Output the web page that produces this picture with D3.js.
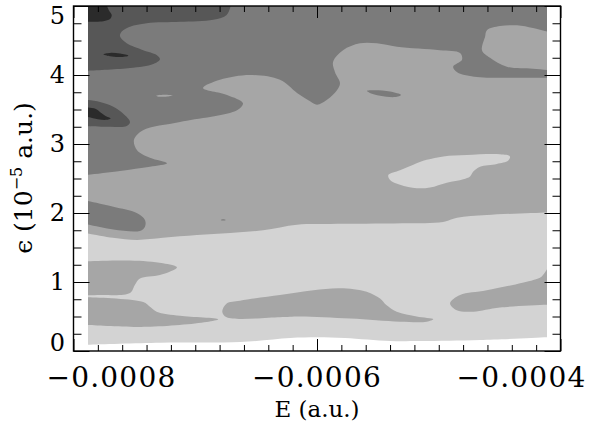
<!DOCTYPE html>
<html><head><meta charset="utf-8">
<script src="https://cdn.jsdelivr.net/npm/d3@7"></script>
<style>
body{margin:0;background:#fff}
text{font-family:"DejaVu Serif",serif;fill:#000}
.tick line{stroke:#000;stroke-width:1}
</style>
</head><body>
<svg id="chart" width="612" height="424"></svg>
<script>
// Units: E in 1e-6 a.u., eps in 1e-5 a.u.
const xDomain = [-800, -400];
const yDomain = [0, 5];
const dataE = [-788, -411];          // sampled energy range
const xMajor = [-800, -600, -400];
const xMajorLabels = ["\u22120.0008", "\u22120.0006", "\u22120.0004"];
const yMajor = [0, 1, 2, 3, 4, 5];
const yMajorLabels = ["0", "1", "2", "3", "4", "5"];
const levelColors = ["#ffffff", "#d3d3d3", "#a6a6a6", "#7b7b7b", "#575757", "#2b2b2b"];

// contour boundaries (E, eps); "Close" arrays close each region outside the sampled box
const lightBase = [[-790,0.09],[-729,0.12],[-663,0.13],[-622,0.19],[-600,0.20],[-577,0.19],[-540,0.145],[-515,0.145],[-466,0.16],[-409,0.20]];
const lightBaseClose = [[-395,0.20],[-395,5.3],[-805,5.3],[-805,0.09]];
const medTop = [[-790,1.71],[-767.6,1.64],[-747.8,1.61],[-726.5,1.64],[-698.6,1.68],[-671.4,1.71],[-644.3,1.75],[-616.4,1.83],[-589.3,1.84],[-530,1.85],[-496.5,1.87],[-484.9,1.93],[-460.4,1.97],[-409,2.01]];
const medTopClose = [[-395,2.01],[-395,5.3],[-805,5.3],[-805,1.71]];
const medLeft1 = [[-790,1.30],[-753.6,1.31],[-726.5,1.27],[-715,1.21],[-729,1.10],[-745.4,1.05],[-749.5,0.96],[-753.6,0.84],[-778,0.81],[-790,0.81]];
const medLeft1Close = [[-805,0.81],[-805,1.30]];
const medLeft2 = [[-790,0.78],[-742.7,0.71],[-737.2,0.64],[-731.7,0.57],[-712.5,0.51],[-681.1,0.46],[-690.6,0.42],[-739.9,0.35],[-790,0.38]];
const medLeft2Close = [[-805,0.38],[-805,0.78]];
const medMid = [[-677.8,0.57],[-674.2,0.69],[-663.2,0.73],[-630.4,0.81],[-603,0.88],[-581.1,0.91],[-559.2,0.86],[-548.2,0.76],[-543.3,0.67],[-534.5,0.57],[-518.1,0.50],[-504.5,0.46],[-509.9,0.425],[-531.8,0.425],[-572.7,0.47],[-614,0.50],[-630.4,0.49],[-674.2,0.49]];
const medRight = [[-409,1.25],[-415.4,1.08],[-422.3,1.03],[-460.6,0.88],[-482.5,0.81],[-490.7,0.69],[-485.2,0.59],[-471.6,0.57],[-449.7,0.63],[-409,0.67]];
const medRightClose = [[-395,0.67],[-395,1.25]];
const lightHole = [[-541.4,2.55],[-531.8,2.62],[-520.9,2.70],[-509.9,2.77],[-496.2,2.82],[-477,2.84],[-449.7,2.85],[-441.5,2.82],[-442.9,2.76],[-452.4,2.71],[-466.1,2.67],[-471.6,2.60],[-474.3,2.53],[-479.8,2.49],[-493.4,2.44],[-507.2,2.37],[-518.1,2.36],[-531.8,2.41],[-540,2.48]];
const darkTop = [[-790,2.55],[-761.8,2.61],[-737.2,2.67],[-723.2,2.72],[-737.2,2.80],[-747.8,2.91],[-750.3,3.06],[-742.9,3.20],[-712.5,3.32],[-665.7,3.49],[-660.8,3.59],[-673.9,3.71],[-693.6,3.81],[-679.7,3.93],[-655,4.0],[-630.4,3.93],[-616.4,3.74],[-605.7,3.62],[-600,3.57],[-591.8,3.64],[-583.6,3.78],[-581.1,3.88],[-585.2,4.04],[-586.8,4.19],[-578.6,4.36],[-564.7,4.46],[-550.7,4.46],[-534.3,4.41],[-499,4.36],[-482.5,4.32],[-480.9,4.22],[-488.2,4.12],[-484.9,4.04],[-468.6,3.97],[-449.7,3.96],[-409,3.96]];
const darkTopClose = [[-395,3.96],[-395,5.3],[-805,5.3],[-805,2.55]];
const darkLeft = [[-790,2.18],[-767.3,2.09],[-748.1,2.00],[-741.3,1.90],[-741.3,1.80],[-745.4,1.74],[-767.3,1.76],[-790,1.84]];
const darkLeftClose = [[-805,1.84],[-805,2.18]];
const darkSpot = [[-559,3.77],[-552.4,3.78],[-540,3.76],[-531,3.71],[-535.9,3.68],[-548.2,3.70],[-556.6,3.74]];
const darkDot = [[-679,1.90],[-677,1.91],[-675,1.90],[-677,1.89]];
const medHoleTR = [[-409,4.62],[-422.6,4.68],[-435.7,4.72],[-449.7,4.71],[-460.4,4.65],[-462,4.55],[-464.5,4.36],[-457.9,4.25],[-444,4.12],[-422.6,4.09],[-409,4.07]];
const medHoleTRClose = [[-395,4.07],[-395,4.62]];
const medSpot = [[-732,3.70],[-726,3.715],[-718.5,3.705],[-724,3.685],[-731,3.69]];
const darkerTop = [[-670.5,5.05],[-671.4,4.97],[-674.2,4.87],[-685.2,4.80],[-712.5,4.77],[-739.9,4.75],[-753.6,4.70],[-760.4,4.63],[-761.8,4.56],[-756.3,4.46],[-742.7,4.36],[-731.7,4.29],[-729,4.23],[-734.5,4.16],[-753.6,4.10],[-790,4.06]];
const darkerTopClose = [[-805,4.06],[-805,5.3],[-670.5,5.3]];
const darkerLeft = [[-790,3.64],[-778.2,3.61],[-767.3,3.54],[-759.1,3.44],[-753.6,3.32],[-756.3,3.26],[-770,3.25],[-790,3.26]];
const darkerLeftClose = [[-805,3.26],[-805,3.64]];
const darkestTop = [[-773.5,5.05],[-771,4.94],[-768.6,4.87],[-770,4.81],[-775.5,4.78],[-790,4.77]];
const darkestTopClose = [[-805,4.77],[-805,5.3],[-773.5,5.3]];
const darkestSpot = [[-775.5,4.30],[-770,4.32],[-761.8,4.31],[-755,4.28],[-761.8,4.26],[-770,4.27]];
const darkestLeft = [[-790,3.53],[-782,3.51],[-778,3.46],[-774,3.41],[-769.5,3.37],[-773,3.35],[-780,3.36],[-790,3.40]];
const darkestLeftClose = [[-805,3.40],[-805,3.53]];

// drawing order (painter's algorithm)
const regions = [
  {level:1, pts:lightBase, close:lightBaseClose},
  {level:2, pts:medTop, close:medTopClose},
  {level:2, pts:medLeft1, close:medLeft1Close},
  {level:2, pts:medLeft2, close:medLeft2Close},
  {level:2, pts:medMid},
  {level:2, pts:medRight, close:medRightClose},
  {level:1, pts:lightHole},
  {level:3, pts:darkTop, close:darkTopClose},
  {level:3, pts:darkLeft, close:darkLeftClose},
  {level:3, pts:darkSpot},
  {level:3, pts:darkDot},
  {level:2, pts:medHoleTR, close:medHoleTRClose},
  {level:2, pts:medSpot},
  {level:4, pts:darkerTop, close:darkerTopClose},
  {level:4, pts:darkerLeft, close:darkerLeftClose},
  {level:5, pts:darkestTop, close:darkestTopClose},
  {level:5, pts:darkestSpot},
  {level:5, pts:darkestLeft, close:darkestLeftClose}
];

const svg = d3.select("#chart");
const x = d3.scaleLinear().domain(xDomain).range([73.5, 560.5]);
const y = d3.scaleLinear().domain(yDomain).range([351, 6]);

svg.append("defs").append("clipPath").attr("id","clip")
  .append("rect")
  .attr("x", x(dataE[0])).attr("y", y(yDomain[1]))
  .attr("width", x(dataE[1]) - x(dataE[0]))
  .attr("height", y(yDomain[0]) - y(yDomain[1]));

const openLine = d3.line().x(d => x(d[0])).y(d => y(d[1])).curve(d3.curveCatmullRom.alpha(0.5));
const closedLine = d3.line().x(d => x(d[0])).y(d => y(d[1])).curve(d3.curveCatmullRomClosed.alpha(0.5));

const g = svg.append("g").attr("clip-path","url(#clip)");
regions.forEach(r => {
  let d;
  if (r.close) {
    d = openLine(r.pts) + r.close.map(p => "L" + x(p[0]) + "," + y(p[1])).join("") + "Z";
  } else {
    d = closedLine(r.pts);
  }
  g.append("path").attr("d", d).attr("fill", levelColors[r.level]).attr("stroke","none");
});

// ticks
const xMinor = d3.range(-800, -399, 20).filter(v => !xMajor.includes(v));
const yMinor = d3.range(0, 5.001, 0.25).filter(v => !yMajor.some(m => Math.abs(m - v) < 1e-9));

function addAxis(gen, transform) {
  const a = svg.append("g").attr("transform", transform).call(gen);
  a.select(".domain").remove();
  a.selectAll("text").remove();
  return a;
}
addAxis(d3.axisBottom(x).tickValues(xMinor).tickSize(-6).tickSizeOuter(0), "translate(0,351)");
addAxis(d3.axisBottom(x).tickValues(xMajor).tickSize(-12).tickSizeOuter(0), "translate(0,351)");
addAxis(d3.axisTop(x).tickValues(xMinor).tickSize(-6).tickSizeOuter(0), "translate(0,6)");
addAxis(d3.axisTop(x).tickValues(xMajor).tickSize(-12).tickSizeOuter(0), "translate(0,6)");
addAxis(d3.axisLeft(y).tickValues(yMinor).tickSize(-8).tickSizeOuter(0), "translate(73.5,0)");
addAxis(d3.axisLeft(y).tickValues(yMajor).tickSize(-16).tickSizeOuter(0), "translate(73.5,0)");
addAxis(d3.axisRight(y).tickValues(yMinor).tickSize(-8).tickSizeOuter(0), "translate(560.5,0)");
addAxis(d3.axisRight(y).tickValues(yMajor).tickSize(-16).tickSizeOuter(0), "translate(560.5,0)");

// frame
svg.append("rect").attr("x", x(xDomain[0])).attr("y", y(yDomain[1]))
  .attr("width", x(xDomain[1]) - x(xDomain[0])).attr("height", y(yDomain[0]) - y(yDomain[1]))
  .attr("fill","none").attr("stroke","#000").attr("stroke-width",1.4);

// tick labels
const xLabelShift = [38, 0, -39];
xMajor.forEach((v, i) => {
  svg.append("text").attr("x", x(v) + xLabelShift[i]).attr("y", 387)
    .attr("text-anchor","middle").attr("font-size", 28).attr("letter-spacing", 1.2)
    .text(xMajorLabels[i]);
});
const yLabelShift = [-8, 0, 0, 0, 0, 10];
yMajor.forEach((v, i) => {
  svg.append("text").attr("x", 65).attr("y", y(v) + yLabelShift[i])
    .attr("text-anchor","end").attr("dominant-baseline","central")
    .attr("font-size", 24).text(yMajorLabels[i]);
});

// axis titles
svg.append("text").attr("x", 317).attr("y", 417).attr("text-anchor","middle")
  .attr("font-size", 23).text("E (a.u.)");
const yt = svg.append("text").attr("transform","translate(32,178) rotate(-90)")
  .attr("text-anchor","middle").attr("font-size", 25);
yt.append("tspan").text("\u03f5 (10");
yt.append("tspan").attr("dy", -10).attr("font-size", 16).text("\u22125");
yt.append("tspan").attr("dy", 10).text(" a.u.)");
</script>
</body></html>
